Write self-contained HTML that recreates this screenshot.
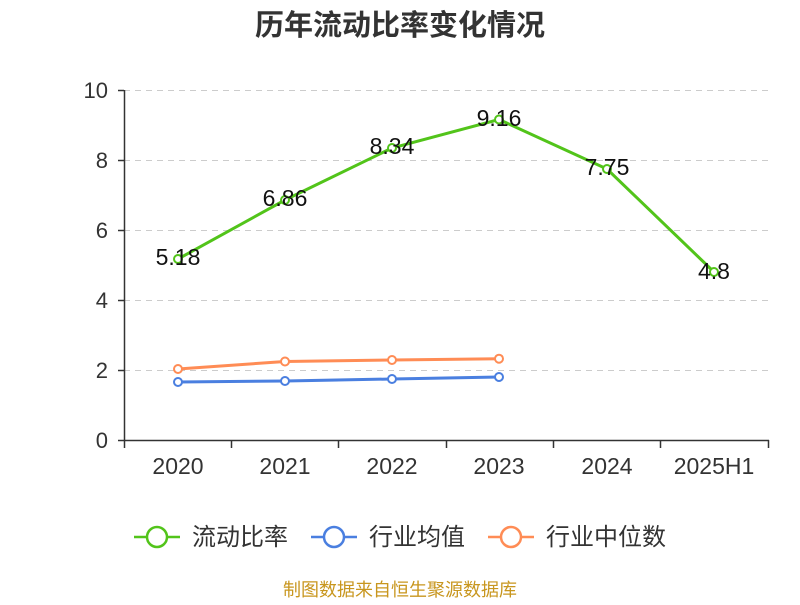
<!DOCTYPE html>
<html><head><meta charset="utf-8"><style>body{margin:0;background:#fff}</style></head><body>
<svg width="800" height="600" xmlns="http://www.w3.org/2000/svg" font-family="'Liberation Sans','Noto Sans CJK SC',sans-serif">
<rect width="800" height="600" fill="#fff"/>
<text x="400" y="35" text-anchor="middle" font-size="29" font-weight="bold" fill="#333">历年流动比率变化情况</text>
<g stroke="#ccc" stroke-dasharray="6,5" stroke-width="1">
<line x1="124" y1="90.5" x2="768" y2="90.5"/><line x1="124" y1="160.5" x2="768" y2="160.5"/><line x1="124" y1="230.5" x2="768" y2="230.5"/><line x1="124" y1="300.5" x2="768" y2="300.5"/><line x1="124" y1="370.5" x2="768" y2="370.5"/>
</g>
<g stroke="#333" stroke-width="1.5">
<line x1="124.5" y1="90" x2="124.5" y2="441"/><line x1="124" y1="440.5" x2="769" y2="440.5"/>
<line x1="118" y1="90.5" x2="124" y2="90.5"/><line x1="118" y1="160.5" x2="124" y2="160.5"/><line x1="118" y1="230.5" x2="124" y2="230.5"/><line x1="118" y1="300.5" x2="124" y2="300.5"/><line x1="118" y1="370.5" x2="124" y2="370.5"/><line x1="118" y1="440.5" x2="124" y2="440.5"/>
<line x1="124.5" y1="440" x2="124.5" y2="448"/><line x1="231.5" y1="440" x2="231.5" y2="448"/><line x1="338.5" y1="440" x2="338.5" y2="448"/><line x1="446.5" y1="440" x2="446.5" y2="448"/><line x1="553.5" y1="440" x2="553.5" y2="448"/><line x1="660.5" y1="440" x2="660.5" y2="448"/><line x1="768.5" y1="440" x2="768.5" y2="448"/>
</g>
<g font-size="22" fill="#333" text-anchor="end">
<text x="108" y="98">10</text><text x="108" y="168">8</text><text x="108" y="238">6</text><text x="108" y="308">4</text><text x="108" y="378">2</text><text x="108" y="448">0</text>
</g>
<g font-size="23" fill="#333" text-anchor="middle">
<text x="178" y="474">2020</text><text x="285" y="474">2021</text><text x="392" y="474">2022</text><text x="499" y="474">2023</text><text x="607" y="474">2024</text><text x="714" y="474">2025H1</text>
</g>
<polyline fill="none" stroke="#52c41a" stroke-width="3" points="178,259 285,200 392,148 499,119.5 607,169 714,272"/>
<polyline fill="none" stroke="#ff8c55" stroke-width="3" points="178,369 285,361.5 392,360 499,358.7"/>
<polyline fill="none" stroke="#4a7fe0" stroke-width="3" points="178,382 285,381 392,379 499,377"/>
<g fill="#fff" stroke-width="2">
<g stroke="#52c41a"><circle cx="178" cy="259" r="4"/><circle cx="285" cy="200" r="4"/><circle cx="392" cy="148" r="4"/><circle cx="499" cy="119.5" r="4"/><circle cx="607" cy="169" r="4"/><circle cx="714" cy="272" r="4"/></g>
<g stroke="#ff8c55"><circle cx="178" cy="369" r="4"/><circle cx="285" cy="361.5" r="4"/><circle cx="392" cy="360" r="4"/><circle cx="499" cy="358.7" r="4"/></g>
<g stroke="#4a7fe0"><circle cx="178" cy="382" r="4"/><circle cx="285" cy="381" r="4"/><circle cx="392" cy="379" r="4"/><circle cx="499" cy="377" r="4"/></g>
</g>
<g font-size="23" fill="#111" text-anchor="middle">
<text x="178" y="265">5.18</text><text x="285" y="206">6.86</text><text x="392" y="154">8.34</text><text x="499" y="126">9.16</text><text x="607" y="175">7.75</text><text x="714" y="279">4.8</text>
</g>
<g stroke-width="2.5" fill="#fff">
<line x1="134" y1="537" x2="180" y2="537" stroke="#52c41a"/><circle cx="157" cy="537" r="10" stroke="#52c41a"/>
<line x1="311" y1="537" x2="357" y2="537" stroke="#4a7fe0"/><circle cx="334" cy="537" r="10" stroke="#4a7fe0"/>
<line x1="488" y1="537" x2="534" y2="537" stroke="#ff8c55"/><circle cx="511" cy="537" r="10" stroke="#ff8c55"/>
</g>
<g font-size="24" fill="#333">
<text x="192" y="545">流动比率</text><text x="369" y="545">行业均值</text><text x="546" y="545">行业中位数</text>
</g>
<text x="400" y="596" text-anchor="middle" font-size="18" fill="#c8961e">制图数据来自恒生聚源数据库</text>
</svg>
</body></html>
